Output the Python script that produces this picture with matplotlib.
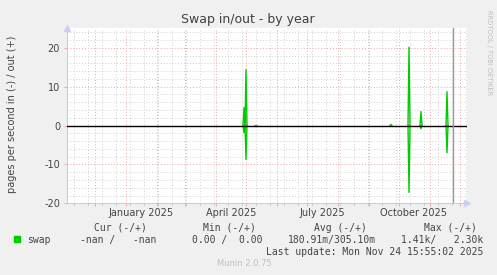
import numpy as np
import matplotlib
matplotlib.use("Agg")
import matplotlib.pyplot as plt
import matplotlib.dates as mdates
import matplotlib.transforms as mtransforms

# days with swap activity (pages per second), everything else is zero
spike_dates = ['2025-04-29', '2025-04-30', '2025-05-01', '2025-05-11',
               '2025-09-23', '2025-10-11', '2025-10-23', '2025-11-18']
swap_out = [4.6, 0.0, 14.4, 0.0, 0.3, 20.2, 3.6, 8.7]
swap_in = [1.8, 0.0, 8.7, 0.3, 0.0, 17.2, 0.8, 7.0]

month_labels = ['January 2025', 'April 2025', 'July 2025', 'October 2025']
month_label_dates = ['2025-01-16', '2025-04-16', '2025-07-16', '2025-10-16']
y_ticks = [-20, -10, 0, 10, 20]

data_start = '2024-11-03'
last_update = '2025-11-24'
view_end = '2025-12-08'

days = np.arange(np.datetime64(data_start), np.datetime64(last_update))
out_vals = np.zeros(len(days))
in_vals = np.zeros(len(days))
for d, o, i in zip(spike_dates, swap_out, swap_in):
    k = int((np.datetime64(d) - np.datetime64(data_start)).astype(int))
    out_vals[k] = o
    in_vals[k] = -i


def hide_flat(v):
    # keep only the points around non-zero days, the zero rule covers the rest
    keep = v != 0
    keep = keep | np.roll(keep, 1) | np.roll(keep, -1)
    return np.where(keep, v, np.nan)


W, H = 497, 275
fig = plt.figure(figsize=(W / 100, H / 100), dpi=100, facecolor='#f0f0f0')
ax = fig.add_axes([67 / W, 1 - 203.3 / H, 400 / W, (203.3 - 28) / H])
ax.set_facecolor('white')

x0 = mdates.date2num(np.datetime64(data_start))
x1 = mdates.date2num(np.datetime64(view_end))
ax.set_xlim(x0, x1)
ax.set_ylim(-20, 25.1)

grid_minor = '#d0d0d0'
grid_major = '#eaa8a8'
dots = (0, (1, 2))

# grid
for yv in np.arange(-18, 25, 2):
    if yv % 10 != 0:
        ax.axhline(yv, color=grid_minor, lw=0.7, ls=dots, zorder=1)
for yv in [-10, 10, 20]:
    ax.axhline(yv, color=grid_major, lw=0.7, ls=dots, zorder=1)

minor_days = np.arange(np.datetime64('2024-11-10'), np.datetime64(view_end), 14)
for d in minor_days:
    ax.axvline(mdates.date2num(d), color=grid_minor, lw=0.7, ls=dots, zorder=1)
months = np.arange(np.datetime64('2024-12'), np.datetime64('2025-12') + 1)
month_nums = [mdates.date2num(m.astype('datetime64[D]')) for m in months]
for m in month_nums:
    ax.axvline(m, color=grid_major, lw=0.7, ls=dots, zorder=1)

# data
xs = mdates.date2num(days)
ax.plot(xs, hide_flat(out_vals), color='#00cc00', lw=1.0, zorder=3)
ax.plot(xs, hide_flat(in_vals), color='#00cc00', lw=1.0, zorder=3)
ax.axhline(0, color='black', lw=1.0, zorder=4)
ax.axvline(mdates.date2num(np.datetime64(last_update)), color='#999999', lw=1.0, zorder=4)

# axes
for s in ['top', 'right']:
    ax.spines[s].set_visible(False)
for s in ['left', 'bottom']:
    ax.spines[s].set_color('#c8ccf0')
    ax.spines[s].set_linewidth(0.8)
ax.plot([0], [1.0], marker='^', ms=4, color='#ccd0f8', transform=ax.transAxes, clip_on=False)
ax.plot([1.0], [0], marker='>', ms=4, color='#ccd0f8', transform=ax.transAxes, clip_on=False)

ax.set_xticks(month_nums)
ax.set_xticklabels([])
ax.set_xticks([mdates.date2num(d) for d in minor_days], minor=True)
ax.tick_params(axis='x', which='major', length=2.5, width=0.7, color=grid_major)
ax.tick_params(axis='x', which='minor', length=1.5, width=0.7, color='#bbbbbb')
ax.set_yticks(y_ticks)
ax.set_yticklabels([str(v) for v in y_ticks])
ax.tick_params(axis='y', length=2, width=0.7, color=grid_major, labelsize=7,
               labelcolor='#444444', pad=3)

trans = mtransforms.blended_transform_factory(ax.transData, fig.transFigure)
for lab, d in zip(month_labels, month_label_dates):
    ax.text(mdates.date2num(np.datetime64(d)), 1 - 213 / H, lab, transform=trans,
            ha='center', va='center', fontsize=7, color='#444444')

txt = '#444444'
fig.text(248 / W, 1 - 19 / H, 'Swap in/out - by year', ha='center', va='center',
         fontsize=9, color='#404040')
fig.text(12 / W, 1 - 114 / H, 'pages per second in (-) / out (+)', rotation=90,
         ha='center', va='center', fontsize=7, color=txt)
fig.text(489 / W, 1 - 53 / H, 'RRDTOOL / TOBI OETIKER', rotation=270,
         ha='center', va='center', fontsize=4.8, color='#c0c0c0')

mono = 'DejaVu Sans Mono'
for s, xr in [('Cur (-/+)', 147), ('Min (-/+)', 256), ('Avg (-/+)', 367), ('Max (-/+)', 477)]:
    fig.text(xr / W, 1 - 228 / H, s, ha='right', va='center', family=mono,
             fontsize=7, color=txt)
fig.patches.append(plt.Rectangle((14 / W, 1 - 242 / H), 6 / W, 6 / H,
                                 transform=fig.transFigure, color='#00cc00'))
fig.text(27 / W, 1 - 240 / H, 'swap', ha='left', va='center', family=mono,
         fontsize=7, color=txt)
for s, xr in [('-nan /   -nan', 156), ('0.00 /  0.00', 262),
              ('180.91m/305.10m', 376), ('1.41k/   2.30k', 483)]:
    fig.text(xr / W, 1 - 240 / H, s, ha='right', va='center', family=mono,
             fontsize=7, color=txt)
fig.text(483 / W, 1 - 252 / H, 'Last update: Mon Nov 24 15:55:02 2025', ha='right',
         va='center', family=mono, fontsize=7, color=txt)
fig.text(244 / W, 1 - 264 / H, 'Munin 2.0.75', ha='center', va='center',
         fontsize=6, color='#c0c0c0')

fig.savefig('out.png', dpi=100, facecolor=fig.get_facecolor())
